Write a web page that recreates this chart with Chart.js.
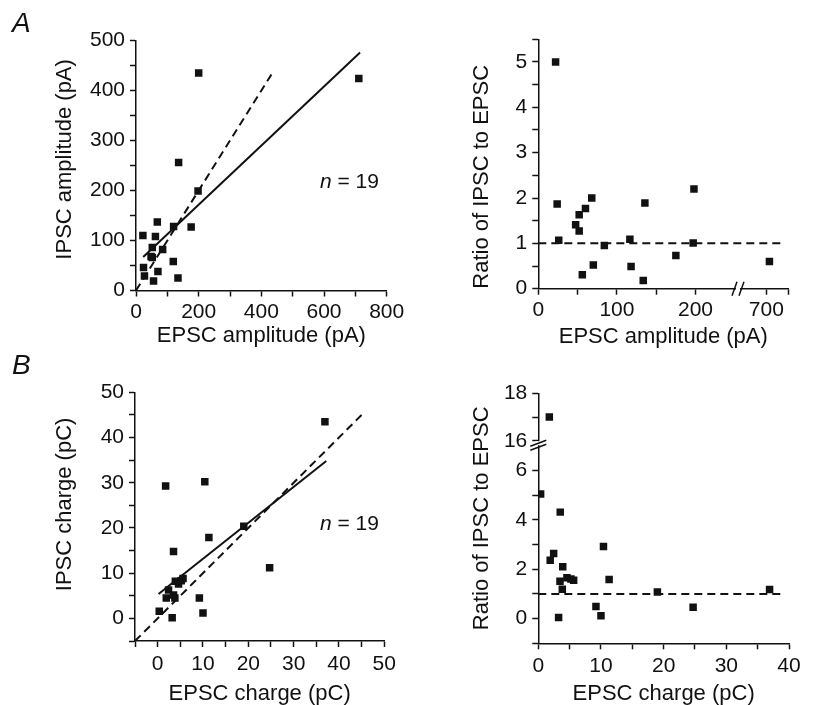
<!DOCTYPE html>
<html>
<head>
<meta charset="utf-8">
<script src="https://cdn.jsdelivr.net/npm/chart.js@4.4.0/dist/chart.umd.min.js"></script>
<style>
  body { margin: 0; background: #fff; }
  #wrap { position: relative; width: 816px; height: 705px; font-family: "Liberation Sans", Arial, sans-serif; color: #111; }
  .pane { position: absolute; }
  .tag { position: absolute; font-size: 28px; font-style: italic; line-height: 28px; }
  .n { position: absolute; font-size: 21px; line-height: 21px; white-space: nowrap; }
</style>
</head>
<body>
<div id="wrap">
  <div class="pane" style="left:0;top:0"><canvas id="ampChart" width="408" height="350"></canvas></div>
  <div class="pane" style="left:408px;top:0"><canvas id="ampRatioChart" width="408" height="350"></canvas></div>
  <div class="pane" style="left:0;top:350px"><canvas id="chgChart" width="408" height="355"></canvas></div>
  <div class="pane" style="left:408px;top:350px"><canvas id="chgRatioChart" width="408" height="355"></canvas></div>
  <div class="tag" style="left:12px;top:9px">A</div>
  <div class="tag" style="left:12px;top:351px">B</div>
  <div class="n" style="left:320px;top:170px"><i>n</i> = 19</div>
  <div class="n" style="left:320px;top:512px"><i>n</i> = 19</div>
</div>
<script>
// --- A: amplitudes (pA) ---
var epscAmp = [200, 711, 136, 198, 22, 68, 120, 176, 62, 52, 85, 48, 52, 24, 119, 70, 27, 56, 134];
var ipscAmp = [435, 424, 256, 199, 110, 137, 128, 127, 108, 86, 82, 68, 66, 46, 58, 38, 29, 19, 25];
var ampFitX = [23, 715];
var ampFitY = [67, 476];
var ampUnityX = [0, 440];

var ratioAmpX = [22, 24, 26, 47.5, 52, 52, 60, 68, 56, 70, 84, 116.5, 118, 135.6, 133.5, 175, 198, 197, 710];
var ratioAmp  = [5.0, 1.87, 1.07, 1.41, 1.63, 1.27, 1.77, 2.0, 0.31, 0.52, 0.95, 1.09, 0.49, 1.89, 0.18, 0.73, 2.2, 1.01, 0.6];
var ratioAmpLineX = [0, 750];

// --- B: charges (pC) ---
var epscChg = [36.9, 1.76, 10.4, 11.3, 3.5, 19.0, 24.7, 5.6, 4.6, 3.9, 2.4, 1.9, 3.5, 3.8, 9.2, 0.35, 3.2, 10.0, 5.2];
var ipscChg = [43.5, 29.3, 30.2, 17.9, 14.8, 20.4, 11.2, 8.8, 7.6, 8.2, 6.3, 4.5, 5.2, 4.5, 4.5, 1.6, 0.15, 1.2, 8.3];
var chgFitX = [0.2, 37.2];
var chgFitY = [5.4, 34.8];
var chgUnityX = [-5, 45];

var ratioChgX = [36.9, 1.76, 10.4, 11.3, 3.5, 19.0, 24.7, 5.64, 4.57, 3.9, 2.45, 1.9, 3.46, 3.83, 9.2, 0.37, 3.24, 10.0, 5.2];
var ratioChg  = [1.18, 17.0, 2.92, 1.58, 4.31, 1.08, 0.46, 1.55, 1.65, 2.1, 2.64, 2.36, 1.51, 1.19, 0.49, 5.04, 0.04, 0.12, 1.6];
var ratioChgLineX = [0, 39];

// tick positions and labelled ticks
var ampXTicks = [0, 100, 200, 300, 400, 500, 600, 700, 800];
var ampXLabels = [0, 200, 400, 600, 800];
var ampYTicks = [0, 50, 100, 150, 200, 250, 300, 350, 400, 450, 500];
var ampYLabels = [0, 100, 200, 300, 400, 500];
var ratioAmpXTicks = [0, 50, 100, 150, 200, 700, 770];
var ratioAmpXLabels = [0, 100, 200, 700];
var ratioAmpYTicks = [0, 0.5, 1, 1.5, 2, 2.5, 3, 3.5, 4, 4.5, 5, 5.5];
var ratioAmpYLabels = [0, 1, 2, 3, 4, 5];
var chgTicks = [-5, 0, 5, 10, 15, 20, 25, 30, 35, 40, 45, 50];
var chgLabels = [0, 10, 20, 30, 40, 50];
var ratioChgXTicks = [0, 5, 10, 15, 20, 25, 30, 35, 40];
var ratioChgXLabels = [0, 10, 20, 30, 40];
var ratioChgYTicks = [-1, 0, 1, 2, 3, 4, 5, 6, 16, 17, 18];
var ratioChgYLabels = [0, 2, 4, 6, 16, 18];

// broken axes: squeeze the part past the break
function squeezeAmp(v) { return v <= 250 ? v : 290 + (v - 700) * 0.4; }
function squeezeRatio(v) { return v <= 7 ? v : 7.2 + (v - 16) * 0.96; }
function same(v) { return v; }

var FONT = '"Liberation Sans", Arial, sans-serif';
var INK = '#111';
Chart.defaults.font.family = FONT;

function pts(xs, ys, fx, fy) {
  fx = fx || same; fy = fy || same;
  return xs.map(function (x, i) { return { x: fx(x), y: fy(ys[i]) }; });
}

function scatterSet(data) {
  return { type: 'scatter', data: data, pointStyle: 'rect', pointRadius: 5.3, pointHoverRadius: 5.3,
           backgroundColor: INK, borderWidth: 0, order: 0 };
}
function lineSet(data, dashed) {
  return { type: 'line', data: data, showLine: true, pointRadius: 0, borderColor: INK,
           borderWidth: 2, borderDash: dashed ? [8, 5] : [], fill: false, order: 1 };
}

function axis(o) {
  var map = o.map || same;
  return {
    type: 'linear', min: o.min, max: o.max,
    border: { display: true, color: INK, width: 1.5 },
    grid: { drawOnChartArea: false, drawTicks: true, tickLength: 6, tickColor: INK, tickWidth: 1.5 },
    ticks: {
      autoSkip: false, maxRotation: 0, color: INK, padding: o.tickPad,
      font: { size: 21 },
      callback: function (v, i) { var t = o.ticks[i]; return o.labels.indexOf(t) >= 0 ? String(t) : ''; }
    },
    afterBuildTicks: function (s) { s.ticks = o.ticks.map(function (v) { return { value: map(v) }; }); },
    afterFit: function (s) {
      if (o.width != null) s.width = o.width;
      if (o.height != null) s.height = o.height;
    },
    title: { display: true, text: o.title, color: INK, align: o.align || 'center',
             font: { size: 22, lineHeight: 1 }, padding: o.titlePad }
  };
}

// draws the "//" marks where an axis is broken
var breakMarks = {
  id: 'breakMarks',
  afterDraw: function (chart, args, opts) {
    if (!opts.axis) return;
    var ctx = chart.ctx, area = chart.chartArea;
    var p = chart.scales[opts.axis].getPixelForValue(opts.at);
    ctx.save();
    ctx.strokeStyle = INK;
    ctx.lineWidth = 1.5;
    ctx.fillStyle = '#fff';
    ctx.beginPath();
    if (opts.axis === 'x') {
      var y = area.bottom;
      ctx.fillRect(p - 2, y - 3, 4, 6);
      ctx.moveTo(p - 6, y + 7); ctx.lineTo(p - 1, y - 7);
      ctx.moveTo(p + 1, y + 7); ctx.lineTo(p + 6, y - 7);
    } else {
      var x = area.left;
      ctx.fillRect(x - 3, p - 2, 6, 4);
      ctx.moveTo(x - 8, p + 3); ctx.lineTo(x + 8, p - 3);
      ctx.moveTo(x - 8, p + 7); ctx.lineTo(x + 8, p + 1);
    }
    ctx.stroke();
    ctx.restore();
  }
};

function makeChart(id, datasets, pad, xAxis, yAxis, brk) {
  return new Chart(document.getElementById(id), {
    type: 'scatter',
    data: { datasets: datasets },
    options: {
      responsive: false, animation: false, events: [],
      layout: { padding: pad },
      plugins: { legend: { display: false }, tooltip: { enabled: false }, breakMarks: brk || {} },
      scales: { x: xAxis, y: yAxis }
    },
    plugins: [breakMarks]
  });
}

// A, left: IPSC vs EPSC amplitude
makeChart('ampChart', [
  scatterSet(pts(epscAmp, ipscAmp)),
  lineSet(pts(ampFitX, ampFitY), false),
  lineSet(pts(ampUnityX, ampUnityX), true)
], { top: 40.5, right: 21.3, left: 0, bottom: 0 },
  axis({ min: 0, max: 800, ticks: ampXTicks, labels: ampXLabels, tickPad: 3,
         height: 59.5, title: 'EPSC amplitude (pA)', titlePad: { top: 0, bottom: 3 } }),
  axis({ min: 0, max: 500, ticks: ampYTicks, labels: ampYLabels, tickPad: 5,
         width: 136, title: '  IPSC amplitude (pA)', titlePad: { top: 54, bottom: 0 } }));

// A, right: ratio vs EPSC amplitude (broken x axis)
makeChart('ampRatioChart', [
  scatterSet(pts(ratioAmpX, ratioAmp, squeezeAmp)),
  lineSet(pts(ratioAmpLineX, [1, 1], squeezeAmp), true)
], { top: 39.3, right: 27.7, left: 0, bottom: 0 },
  axis({ min: 0, max: squeezeAmp(770), ticks: ratioAmpXTicks, labels: ratioAmpXLabels, map: squeezeAmp, tickPad: 3,
         height: 61.3, title: 'EPSC amplitude (pA)', titlePad: { top: 0, bottom: 2 } }),
  axis({ min: 0, max: 5.5, ticks: ratioAmpYTicks, labels: ratioAmpYLabels, tickPad: 5,
         width: 130.3, title: 'Ratio of IPSC to EPSC', align: 'start', titlePad: { top: 63, bottom: 0 } }),
  { axis: 'x', at: 254 });

// B, left: IPSC vs EPSC charge
makeChart('chgChart', [
  scatterSet(pts(epscChg, ipscChg)),
  lineSet(pts(chgFitX, chgFitY), false),
  lineSet(pts(chgUnityX, chgUnityX), true)
], { top: 42.3, right: 23.7, left: 0, bottom: 0 },
  axis({ min: -5, max: 50, ticks: chgTicks, labels: chgLabels, tickPad: 5,
         height: 64, title: 'EPSC charge (pC)', titlePad: { top: 0, bottom: 0 } }),
  axis({ min: -5, max: 50, ticks: chgTicks, labels: chgLabels, tickPad: 5,
         width: 135, title: '    IPSC charge (pC)', titlePad: { top: 54, bottom: 0 } }));

// B, right: ratio vs EPSC charge (broken y axis)
makeChart('chgRatioChart', [
  scatterSet(pts(ratioChgX, ratioChg, same, squeezeRatio)),
  lineSet(pts(ratioChgLineX, [1, 1]), true)
], { top: 43.3, right: 27, left: 0, bottom: 0 },
  axis({ min: 0, max: 40, ticks: ratioChgXTicks, labels: ratioChgXLabels, tickPad: 4,
         height: 61.7, title: 'EPSC charge (pC)', titlePad: { top: 0, bottom: 0.5 } }),
  axis({ min: -1, max: squeezeRatio(18), ticks: ratioChgYTicks, labels: ratioChgYLabels, map: squeezeRatio, tickPad: 5,
         width: 130.3, title: 'Ratio of IPSC to EPSC', titlePad: { top: 63, bottom: 0 } }),
  { axis: 'y', at: 7.1 });
</script>
</body>
</html>
